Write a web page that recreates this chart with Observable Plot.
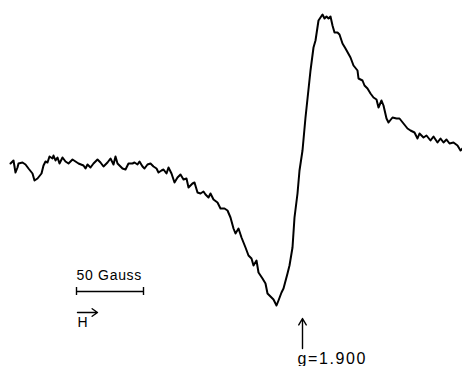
<!DOCTYPE html>
<html>
<head>
<meta charset="utf-8">
<script src="https://cdn.jsdelivr.net/npm/d3@7"></script>
<script src="https://cdn.jsdelivr.net/npm/@observablehq/plot@0.6"></script>
<style>
  html, body { margin: 0; padding: 0; background: #fff; }
  #chart svg { display: block; }
</style>
</head>
<body>
<div id="chart"></div>
<script>
// Field position (arbitrary units along the sweep) and pen deflection (downwards positive)
const field = [10,13,15,17,18,22,25,28,32,34,37,41,43,45,47,49,52,53,55,57,59,62,65,68,72,75,78,83,85,87,90,93,97,100,103,107,110,113,115,117,122,125,128,132,134,137,139,142,144,147,150,153,156,158,161,163,166,168,171,174,177,180,183,186,188,192,194,197,200,203,205,208,210,213,217,220,224,227,230,233,235,238,241,245,248,251,253,256,258,262,265,267,271,273,276,278,281,283,287,289,292,294,297,299,302,305,310,313,315,318,320,322,324,326,328,330,332,334,337,339,342,345,350,353,357,358,362,364,367,370,373,376,378,381,383,386,388,392,396,399,403,407,410,414,417,419,423,426,430,433,437,440,443,446,449,453,457,460,462];
const deflection = [163,160,172,167,163,162,164,168,173,180,178,173,165,161,162,156,158,155,160,157,163,157,161,163,159,161,163,165,168,164,167,163,159,162,166,162,158,164,156,163,168,169,163,163,162,164,161,166,168,164,163,166,168,172,170,169,173,167,173,182,177,174,179,178,187,183,182,192,193,191,194,197,193,199,202,208,208,210,217,228,233,228,237,247,255,258,265,260,272,278,283,293,297,299,305,300,292,288,273,265,247,217,193,170,150,117,70,47,40,20,17,14,18,16,18,16,25,32,32,34,43,48,57,65,70,78,80,85,88,93,97,99,107,100,105,118,122,117,118,118,123,128,130,132,138,133,137,135,140,136,142,138,142,139,143,142,145,150,148];

// Annotations
const scaleBarLabel = "50 Gauss";
const scaleBarEnds = [76, 143];   // field units spanning 50 G
const scaleBarLevel = 291;
const fieldArrow = {x1: 77, x2: 97, y: 312, label: "H"};
const gMarker = {x: 302, yFrom: 348, yTo: 318, label: "g=1.900"};

const data = field.map((f, i) => ({f, d: deflection[i]}));
const font = "Liberation Sans, Arial, sans-serif";

const chart = Plot.plot({
  width: 462,
  height: 366,
  margin: 0,
  x: {domain: [0, 462], range: [0, 462], axis: null},
  y: {domain: [0, 366], range: [0, 366], axis: null},
  marks: [
    Plot.line(data, {x: "f", y: "d", stroke: "#000", strokeWidth: 2, strokeLinejoin: "round"}),
    // scale bar
    Plot.ruleY([scaleBarLevel], {x1: scaleBarEnds[0], x2: scaleBarEnds[1], stroke: "#000", strokeWidth: 1.4}),
    Plot.ruleX(scaleBarEnds, {y1: scaleBarLevel - 4, y2: scaleBarLevel + 4, stroke: "#000", strokeWidth: 1.4}),
    Plot.text([scaleBarLabel], {x: scaleBarEnds[0], y: scaleBarLevel - 16, text: d => d, textAnchor: "start", fontSize: 14, fontFamily: font, fill: "#000"}),
    // field direction arrow
    Plot.arrow([fieldArrow], {x1: "x1", x2: "x2", y1: "y", y2: "y", stroke: "#000", strokeWidth: 1.4, headLength: 7, headAngle: 70}),
    Plot.text([fieldArrow], {x: "x1", y: d => d.y + 10, text: "label", textAnchor: "start", fontSize: 14, fontFamily: font, fill: "#000"}),
    // g marker
    Plot.arrow([gMarker], {x1: "x", x2: "x", y1: "yFrom", y2: "yTo", stroke: "#000", strokeWidth: 1.4, headLength: 8, headAngle: 60}),
    Plot.text([gMarker], {x: d => d.x - 5, y: d => d.yFrom + 10, text: "label", textAnchor: "start", fontSize: 16, fontFamily: font, fill: "#000"})
  ]
});
d3.select(chart).selectAll("text").each(function () {
  const t = this.textContent;
  if (t === "g=1.900") this.setAttribute("letter-spacing", "1.6");
  if (t === "50 Gauss") this.setAttribute("letter-spacing", "0.7");
});
document.getElementById("chart").appendChild(chart);
</script>
</body>
</html>
